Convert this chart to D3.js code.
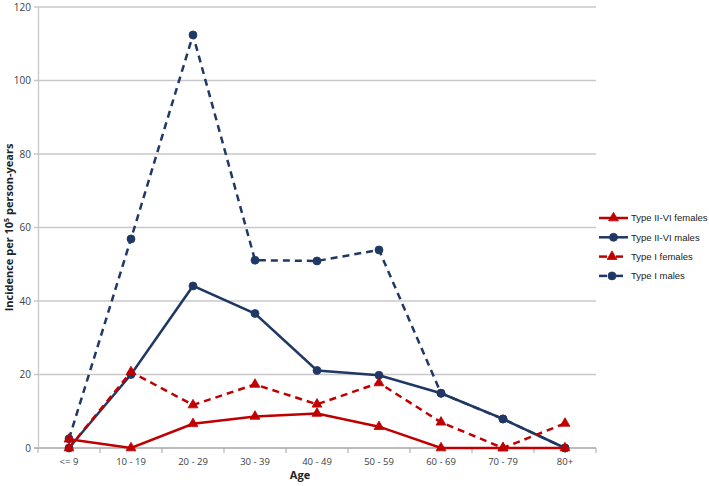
<!DOCTYPE html>
<html><head><meta charset="utf-8">
<script src="https://cdn.jsdelivr.net/npm/d3@7"></script>
<style>body{margin:0;background:#fff}svg{display:block}text{font-family:"Open Sans","Liberation Sans",sans-serif}</style>
</head><body>
<svg id="c" width="709" height="486"></svg>
<script>
const categories = ["<= 9","10 - 19","20 - 29","30 - 39","40 - 49","50 - 59","60 - 69","70 - 79","80+"];
const typeIIVIFemales = [2.4, 0, 6.6, 8.6, 9.4, 5.8, 0, 0, 0];
const typeIIVIMales   = [0, 20, 44.1, 36.6, 21.1, 19.8, 14.9, 7.9, 0];
const typeIFemales    = [0, 20.7, 11.7, 17.3, 11.9, 17.7, 7.0, 0, 6.7];
const typeIMales      = [2.5, 56.9, 112.4, 51.1, 50.9, 53.9, 14.9, 7.9, 0];
const yTicks = [0, 20, 40, 60, 80, 100, 120];
const seriesNames = ["Type II-VI females","Type II-VI males","Type I females","Type I males"];

const RED = "#c00000", BLUE = "#1f3864";
const series = [
  {name: seriesNames[0], values: typeIIVIFemales, color: RED, dashed: false, marker: "tri"},
  {name: seriesNames[1], values: typeIIVIMales, color: BLUE, dashed: false, marker: "circ"},
  {name: seriesNames[2], values: typeIFemales, color: RED, dashed: true, marker: "tri"},
  {name: seriesNames[3], values: typeIMales, color: BLUE, dashed: true, marker: "circ"}
];

const svg = d3.select("#c");
const L = 38, R = 596, T = 7, B = 448;
const x = d3.scaleBand().domain(categories).range([L, R]);
const y = d3.scaleLinear().domain([0, 120]).range([B, T]);

// gridlines
svg.append("g").selectAll("line").data(yTicks).join("line")
  .attr("x1", L - 4).attr("x2", R).attr("y1", d => y(d)).attr("y2", d => y(d))
  .attr("stroke", d => d === 0 ? "#a6a6a6" : "#c8c8c8").attr("stroke-width", 1.3);
// y axis line
svg.append("line").attr("x1", L + 0.5).attr("x2", L + 0.5).attr("y1", T).attr("y2", B)
  .attr("stroke", "#c8c8c8").attr("stroke-width", 1.3);
// y tick labels
svg.append("g").selectAll("text").data(yTicks).join("text")
  .attr("x", L - 7).attr("y", d => y(d)).attr("dy", "0.35em").attr("text-anchor", "end")
  .attr("font-size", 10).attr("fill", "#404040").text(d => d);
// x ticks
const bounds = categories.map(c => x(c)).concat([R]);
svg.append("g").selectAll("line").data(bounds).join("line")
  .attr("x1", d => d).attr("x2", d => d).attr("y1", B).attr("y2", B + 5)
  .attr("stroke", "#a6a6a6").attr("stroke-width", 1);
svg.append("g").selectAll("text").data(categories).join("text")
  .attr("x", d => x(d) + x.bandwidth() / 2).attr("y", B + 17).attr("text-anchor", "middle")
  .attr("font-size", 9.5).attr("fill", "#404040").text(d => d);

// axis titles
svg.append("text").attr("x", (L + R) / 2 - 17).attr("y", 479).attr("text-anchor", "middle")
  .attr("font-size", 11).attr("font-weight", "bold").attr("fill", "#222").text("Age");
const yt = svg.append("text").attr("transform", `translate(13,${(T + B) / 2}) rotate(-90)`)
  .attr("text-anchor", "middle").attr("font-size", 11).attr("font-weight", "bold").attr("fill", "#222");
yt.append("tspan").text("Incidence per 10");
yt.append("tspan").attr("font-size", 7).attr("dy", -4).text("5");
yt.append("tspan").attr("dy", 4).text(" person-years");

const cx = i => x(categories[i]) + x.bandwidth() / 2;
const line = d3.line().x((d, i) => cx(i)).y(d => y(d));
const tri = d3.symbol().type(d3.symbolTriangle).size(42);
const circ = d3.symbol().type(d3.symbolCircle).size(50);

function drawMarker(g, m, color, px, py) {
  g.append("path").attr("d", m === "tri" ? tri() : circ())
    .attr("transform", `translate(${px},${py})`).attr("fill", color).attr("stroke", color).attr("stroke-width", 0.8);
}

const order = [3, 1, 2, 0];
order.forEach(k => {
  const s = series[k];
  const g = svg.append("g");
  g.append("path").datum(s.values).attr("d", line).attr("fill", "none")
    .attr("stroke", s.color).attr("stroke-width", 2.5)
    .attr("stroke-dasharray", s.dashed ? "7,5" : null);
  s.values.forEach((v, i) => drawMarker(g, s.marker, s.color, cx(i), y(v)));
});

// legend
const lg = svg.append("g");
series.forEach((s, i) => {
  const ly = 218 + i * 19.3;
  if (s.dashed) {
    lg.append("line").attr("x1", 599).attr("x2", 607).attr("y1", ly).attr("y2", ly)
      .attr("stroke", s.color).attr("stroke-width", 2.5);
    lg.append("line").attr("x1", 616).attr("x2", 623).attr("y1", ly).attr("y2", ly)
      .attr("stroke", s.color).attr("stroke-width", 2.5);
  } else {
    lg.append("line").attr("x1", 599).attr("x2", 628).attr("y1", ly).attr("y2", ly)
      .attr("stroke", s.color).attr("stroke-width", 2.5);
  }
  drawMarker(lg, s.marker, s.color, s.dashed ? 612 : 613.5, ly);
  lg.append("text").attr("x", 631).attr("y", ly).attr("dy", "0.35em")
    .style("font-family", '"Liberation Sans Narrow","Liberation Sans",sans-serif')
    .attr("font-size", 9.5).attr("fill", "#222").text(s.name);
});
</script>
</body></html>
